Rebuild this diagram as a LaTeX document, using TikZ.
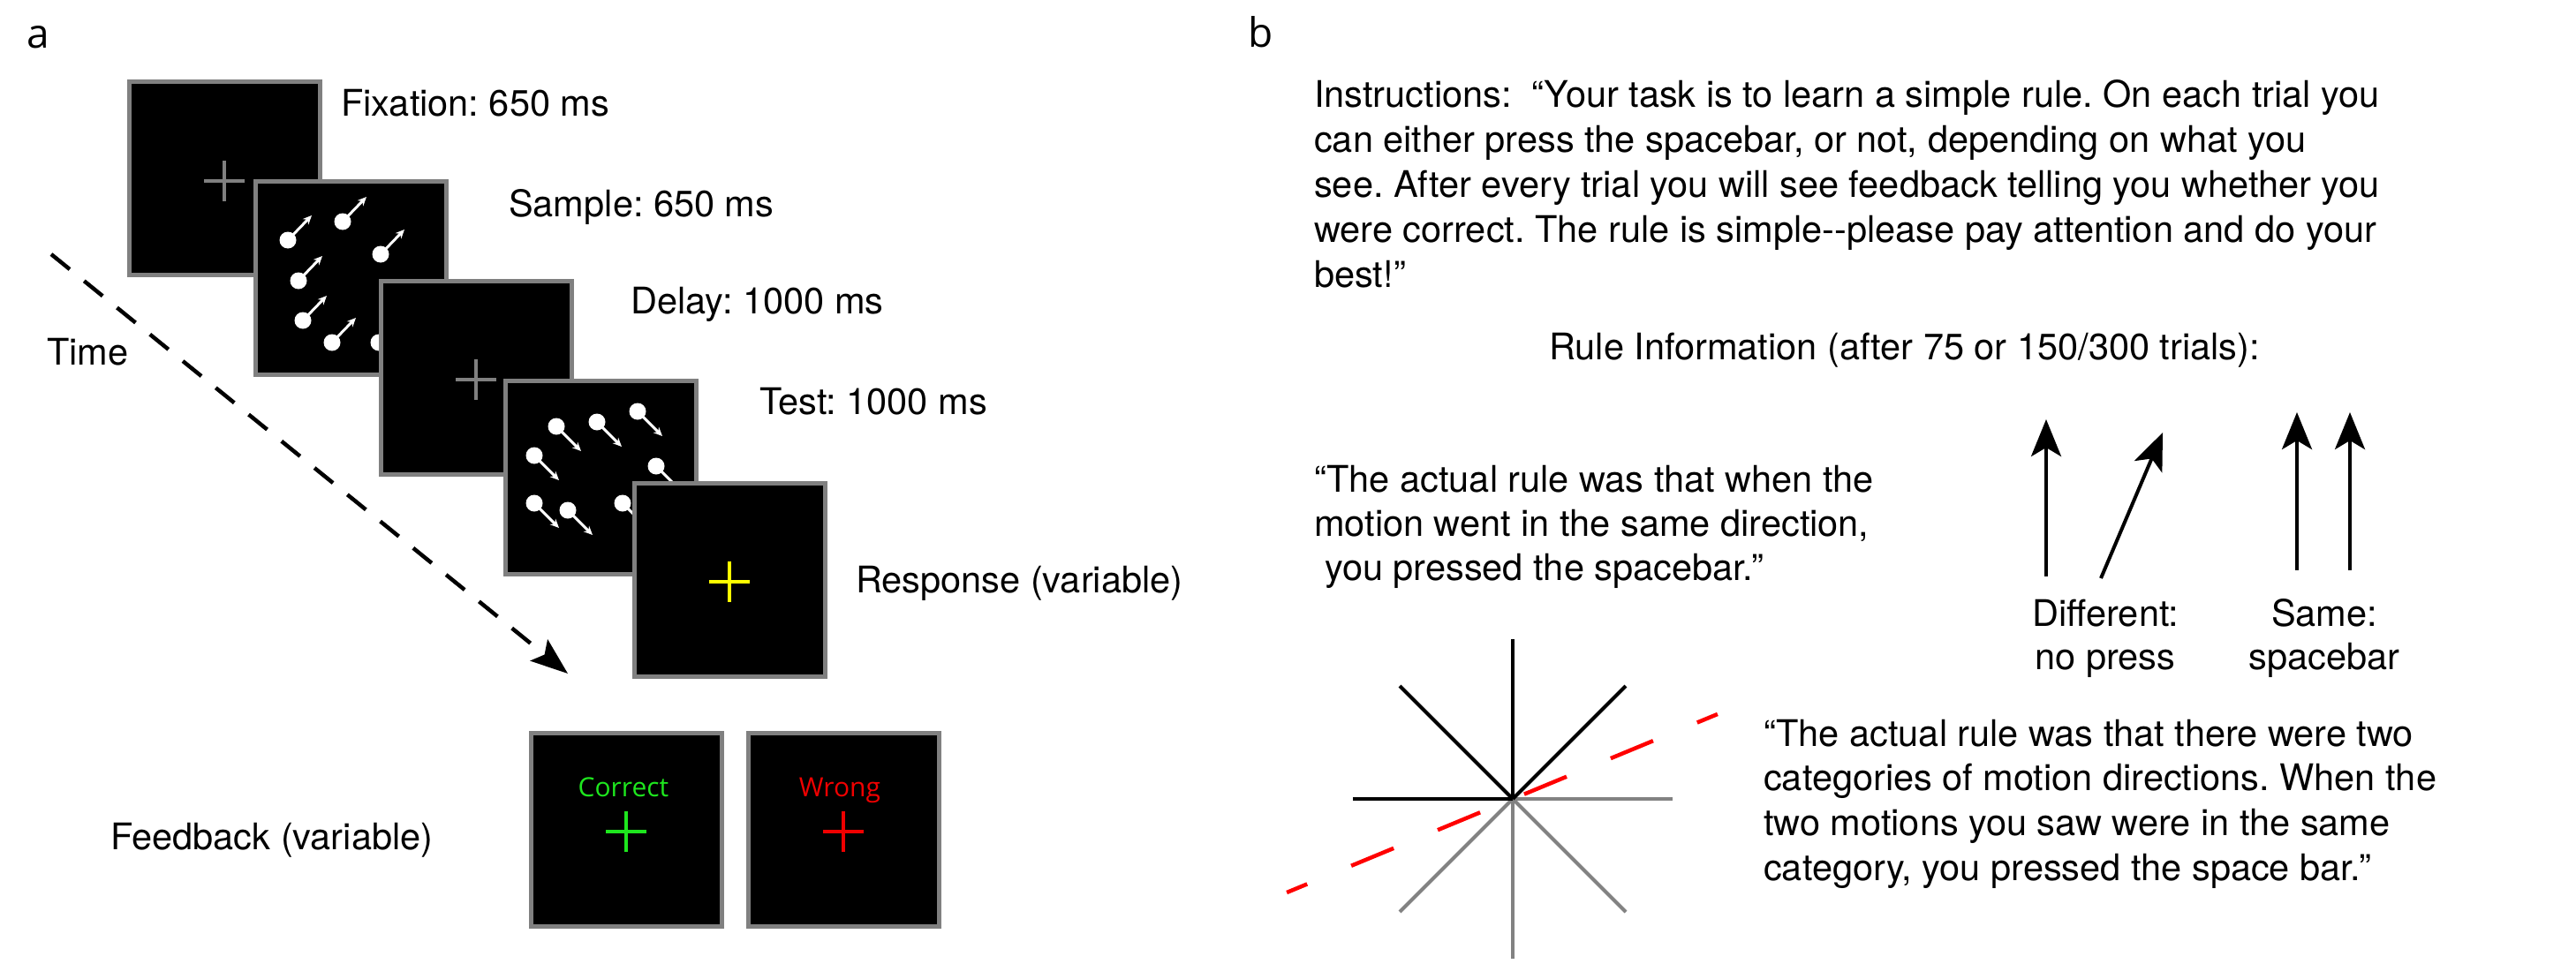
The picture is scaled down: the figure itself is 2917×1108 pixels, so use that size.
\documentclass[tikz,border=0pt]{standalone}
\usepackage{fontspec}
\setmainfont{TeX Gyre Heros}
\newfontfamily\osfont{Open Sans}
\usetikzlibrary{arrows.meta}
\frenchspacing
\definecolor{framegray}{RGB}{128,128,128}
\definecolor{fbgreen}{RGB}{30,230,30}
\definecolor{fbred}{RGB}{240,0,0}
\definecolor{crossyellow}{RGB}{255,255,0}
\definecolor{dashred}{RGB}{255,0,0}
\definecolor{stargray}{RGB}{130,130,130}
\newcommand\fixcross[3]{\draw[line width=4pt,#2] ([shift={(-23,#3)}]#1.center) -- ([shift={(23,#3)}]#1.center) ([shift={(0,#3-23)}]#1.center) -- ([shift={(0,#3+23)}]#1.center);}
\newcommand\updot[2]{\fill[white] (#1,#2) circle[radius=9.5]; \draw[mvarrow] (#1,#2) -- ++(27,-28);}
\newcommand\dndot[2]{\fill[white] (#1,#2) circle[radius=9.5]; \draw[mvarrow] (#1,#2) -- ++(28,28);}
\begin{document}
\begin{tikzpicture}[x=1pt,y=-1pt,
  txt/.style={anchor=base west, inner sep=0pt, font=\fontsize{41.5}{51}\selectfont},
  ctxt/.style={anchor=base, inner sep=0pt, font=\fontsize{41.5}{51}\selectfont},
  screen/.style={draw=framegray, line width=5pt, fill=black, inner sep=0pt, minimum width=216pt, minimum height=219pt, anchor=north west},
  mvarrow/.style={white, line width=3pt, -{Stealth[length=10pt,width=9pt]}},
  bigarrow/.style={black, line width=4pt, -{Stealth[length=42pt,width=34pt,inset=10pt]}},
  timearrow/.style={black, line width=4.5pt, dash pattern=on 27pt off 21pt, -{Stealth[length=42pt,width=31pt,inset=8pt]}},
  starblack/.style={black, line width=4pt},
  stargrey/.style={stargray, line width=4pt},
  reddash/.style={dashred, line width=4.5pt, dash pattern=on 52pt off 54pt, dash phase=27pt},
  panel/.style={anchor=base west, inner sep=0pt, font=\osfont\fontsize{46}{50}\selectfont},
  fbtxt/.style={anchor=base, inner sep=0pt, font=\osfont\fontsize{30}{33}\selectfont}]
\useasboundingbox (0,0) rectangle (2917,1108);

% ---------- panel a ----------
\node[panel] (pa) at (30,55) {a};

% time arrow
\coordinate (t0) at (58,288);
\coordinate (t1) at (643,763);
\draw[timearrow] (t0) -- (t1);

% screens
\node[screen] (s1) at (143.5,89.5) {};
\fixcross{s1}{framegray}{3}

\node[screen] (s2) at (286.5,202.5) {};
\updot{326}{272}\updot{388}{251}\updot{431}{288}
\updot{338}{318}\updot{343}{363}\updot{376}{388}\updot{429}{388}

\node[screen] (s3) at (428.5,315.5) {};
\fixcross{s3}{framegray}{2}

\node[screen] (s4) at (569.5,428.5) {};
\dndot{630}{483}\dndot{676}{478}\dndot{722}{466}\dndot{605}{516}
\dndot{743}{528}\dndot{605}{570}\dndot{643}{578}\dndot{705}{570}

\node[screen] (s5) at (715.5,544.5) {};
\fixcross{s5}{crossyellow}{2}

\node[screen] (fbc) at (598.5,827.5) {};
\fixcross{fbc}{fbgreen}{2}
\node[fbtxt, text=fbgreen] (tc) at (706,902) {Correct};

\node[screen] (fbw) at (844.5,827.5) {};
\fixcross{fbw}{fbred}{2}
\node[fbtxt, text=fbred] (tw) at (951,902) {Wrong};

% labels
\node[txt] (lfix) at (386,131) {Fixation: 650 ms};
\node[txt] (lsam) at (576,245) {Sample: 650 ms};
\node[txt] (ldel) at (714,355) {Delay: 1000 ms};
\node[txt] (ltst) at (860,469) {Test: 1000 ms};
\node[txt] (lrsp) at (969,671) {Response (variable)};
\node[txt] (ltime) at (53,413) {Time};
\node[txt] (lfb) at (125,962) {Feedback (variable)};

% ---------- panel b ----------
\node[panel] (pb) at (1413,54) {b};

\node[txt] (i1) at (1488,121) {Instructions:\ \ “Your task is to learn a simple rule. On each trial you};
\node[txt] (i2) at (1488,172) {can either press the spacebar, or not, depending on what you};
\node[txt] (i3) at (1488,223) {see. After every trial you will see feedback telling you whether you};
\node[txt] (i4) at (1488,274) {were correct. The rule is simple-{}-please pay attention and do your};
\node[txt] (i5) at (1488,325) {best!”};

\node[txt] (ri) at (1754,407) {Rule Information (after 75 or 150/300 trials):};

\node[txt] (r1) at (1488,557) {“The actual rule was that when the};
\node[txt] (r2) at (1488,607) {motion went in the same direction,};
\node[txt] (r3) at (1500,657) {you pressed the spacebar.”};

\node[txt] (q1) at (1997,845) {“The actual rule was that there were two};
\node[txt] (q2) at (1997,895) {categories of motion directions. When the};
\node[txt] (q3) at (1997,946) {two motions you saw were in the same};
\node[txt] (q4) at (1997,997) {category, you pressed the space bar.”};

% direction arrows
\coordinate (a1s) at (2317,653); \coordinate (a1e) at (2317,475);
\coordinate (a2s) at (2379,655); \coordinate (a2e) at (2449,490);
\coordinate (a3s) at (2601,646); \coordinate (a3e) at (2601,467);
\coordinate (a4s) at (2661,646); \coordinate (a4e) at (2661,467);
\draw[bigarrow] (a1s) -- (a1e);
\draw[bigarrow] (a2s) -- (a2e);
\draw[bigarrow] (a3s) -- (a3e);
\draw[bigarrow] (a4s) -- (a4e);
\node[ctxt] (d1) at (2384,709) {Different:};
\node[ctxt] (d2) at (2384,758) {no press};
\node[ctxt] (m1) at (2632,709) {Same:};
\node[ctxt] (m2) at (2632,758) {spacebar};

% star of directions
\coordinate (sc) at (1713,905);
\foreach \a in {0,45,90,135} \draw[stargrey] (sc) -- ++(\a:181);
\foreach \a in {180,-135,-90,-45} \draw[starblack] (sc) -- ++(\a:181);
\coordinate (rl0) at ([shift={(157.5:277)}]sc);
\coordinate (rl1) at ([shift={(-22.5:251)}]sc);
\draw[reddash] (rl0) -- (rl1);
\end{tikzpicture}
\end{document}
